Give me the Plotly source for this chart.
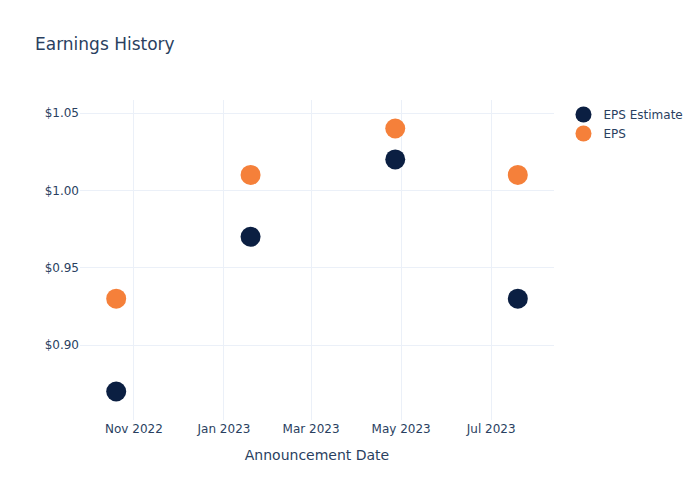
import plotly.graph_objects as go

dates = ["2022-10-20", "2023-01-19", "2023-04-27", "2023-07-19"]
eps_estimate = [0.87, 0.97, 1.02, 0.93]
eps_actual = [0.93, 1.01, 1.04, 1.01]

fig = go.Figure()
fig.add_trace(go.Scatter(x=dates, y=eps_estimate, mode="markers", name="EPS Estimate",
                         marker=dict(color="#0b1f42", size=20)))
fig.add_trace(go.Scatter(x=dates, y=eps_actual, mode="markers", name="EPS",
                         marker=dict(color="#f5803a", size=20)))
fig.update_layout(
    template="plotly_white",
    width=700, height=500,
    font=dict(family="DejaVu Sans"),
    title=dict(text="Earnings History"),
    xaxis=dict(title="Announcement Date", dtick="M2", tickformat="%b %Y"),
    yaxis=dict(tickprefix="$", tickformat=".2f"),
)
fig.write_html("out.html")
